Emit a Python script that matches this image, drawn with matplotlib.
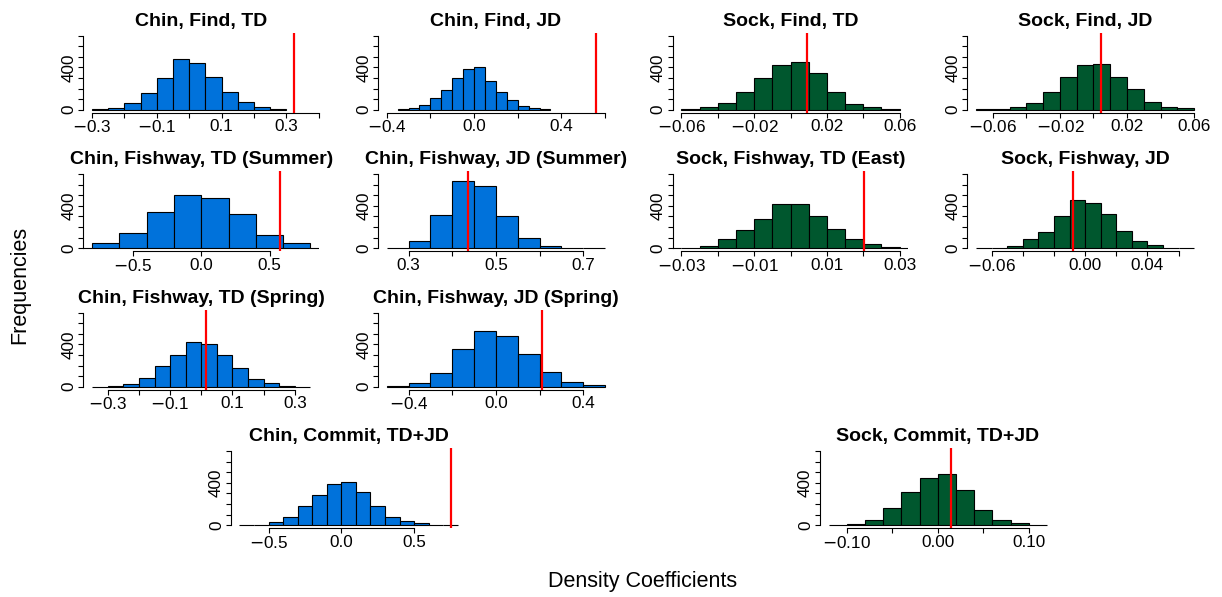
import numpy as np
import matplotlib
matplotlib.use("Agg")
import matplotlib.pyplot as plt

plt.rcParams["font.family"] = ["Liberation Sans", "DejaVu Sans"]
plt.rcParams["mathtext.fontset"] = "dejavusans"

# --- data ------------------------------------------------------------------
titles = [
    "Chin, Find, TD", "Chin, Find, JD", "Sock, Find, TD", "Sock, Find, JD",
    "Chin, Fishway, TD (Summer)", "Chin, Fishway, JD (Summer)",
    "Sock, Fishway, TD (East)", "Sock, Fishway, JD",
    "Chin, Fishway, TD (Spring)", "Chin, Fishway, JD (Spring)",
    "Chin, Commit, TD+JD", "Sock, Commit, TD+JD",
]
species = ["Chin", "Chin", "Sock", "Sock", "Chin", "Chin", "Sock", "Sock",
           "Chin", "Chin", "Chin", "Sock"]

bin_start = [-0.3, -0.35, -0.06, -0.07, -1.0, 0.25, -0.035, -0.07,
             -0.35, -0.5, -0.7, -0.12]
bin_width = [0.05, 0.05, 0.01, 0.01, 0.2, 0.05, 0.005, 0.01,
             0.05, 0.1, 0.1, 0.02]

counts = [
    [8, 19, 60, 155, 300, 476, 438, 312, 170, 76, 22, 6],
    [6, 13, 44, 107, 186, 303, 382, 400, 271, 164, 88, 32, 13, 6],
    [6, 25, 60, 167, 303, 420, 448, 344, 167, 54, 22, 6],
    [6, 9, 22, 66, 170, 306, 423, 435, 312, 196, 73, 22, 13],
    [5, 44, 141, 342, 499, 474, 323, 122, 47, 5],
    [0, 69, 314, 640, 584, 301, 94, 16, 3, 0],
    [1, 3, 22, 88, 173, 276, 421, 417, 301, 179, 82, 38, 9, 1],
    [0, 3, 22, 82, 148, 301, 455, 424, 320, 163, 66, 28, 6, 3],
    [0, 6, 22, 80, 197, 299, 427, 408, 299, 172, 73, 35, 6, 0],
    [3, 32, 131, 357, 522, 475, 312, 137, 41, 13],
    [3, 6, 25, 79, 183, 284, 391, 404, 312, 177, 73, 35, 16, 6, 3],
    [6, 13, 47, 164, 309, 442, 480, 328, 142, 50, 16, 6],
]

observed = [0.325, 0.559, 0.0089, 0.0042, 0.579, 0.435, 0.0202, -0.0075,
            0.014, 0.212, 0.755, 0.0147]

x_limits = [(-0.327, 0.402), (-0.44, 0.64), (-0.0648, 0.0648), (-0.0752, 0.0652),
            (-0.864, 0.864), (0.23, 0.77), (-0.0324, 0.0324), (-0.0756, 0.0756),
            (-0.378, 0.378), (-0.54, 0.54), (-0.76, 0.86), (-0.1296, 0.1296)]

x_ticks = [
    [-0.3, -0.2, -0.1, 0.0, 0.1, 0.2, 0.3, 0.4],
    [-0.4, -0.2, 0.0, 0.2, 0.4, 0.6],
    [-0.06, -0.04, -0.02, 0.0, 0.02, 0.04, 0.06],
    [-0.06, -0.04, -0.02, 0.0, 0.02, 0.04, 0.06],
    [-0.5, 0.0, 0.5],
    [0.3, 0.4, 0.5, 0.6, 0.7],
    [-0.03, -0.02, -0.01, 0.0, 0.01, 0.02, 0.03],
    [-0.06, -0.04, -0.02, 0.0, 0.02, 0.04, 0.06],
    [-0.3, -0.2, -0.1, 0.0, 0.1, 0.2, 0.3],
    [-0.4, -0.2, 0.0, 0.2, 0.4],
    [-0.5, 0.0, 0.5],
    [-0.10, -0.05, 0.0, 0.05, 0.10],
]
M = "$-$"
x_labels = [
    [M + "0.3", "", M + "0.1", "", "0.1", "", "0.3", ""],
    [M + "0.4", "", "0.0", "", "0.4", ""],
    [M + "0.06", "", M + "0.02", "", "0.02", "", "0.06"],
    [M + "0.06", "", M + "0.02", "", "0.02", "", "0.06"],
    [M + "0.5", "0.0", "0.5"],
    ["0.3", "", "0.5", "", "0.7"],
    [M + "0.03", "", M + "0.01", "", "0.01", "", "0.03"],
    [M + "0.06", "", "", "0.00", "", "0.04", ""],
    [M + "0.3", "", M + "0.1", "", "0.1", "", "0.3"],
    [M + "0.4", "", "0.0", "", "0.4"],
    [M + "0.5", "0.0", "0.5"],
    [M + "0.10", "", "0.00", "", "0.10"],
]

y_ticks = [0, 100, 200, 300, 400, 500, 600, 700]
y_labels = ["0", "", "", "", "400", "", "", ""]

# --- layout (grid row, grid column) -----------------------------------------
grid = [(0, 0), (0, 1), (0, 2), (0, 3), (1, 0), (1, 1), (1, 2), (1, 3),
        (2, 0), (2, 1), (3, 0.5), (3, 2.5)]
colors = {"Chin": "#0072DB", "Sock": "#00572E"}

W, H = 1222, 597
fig = plt.figure(figsize=(W / 100, H / 100), dpi=100)

for i, title in enumerate(titles):
    row, col = grid[i]
    left = 83.4 + 294.6 * col
    bottom = 112.6 + 138.5 * row
    ax = fig.add_axes([left / W, 1 - bottom / H, 235.8 / W, 79.9 / H])

    n = len(counts[i])
    edges = bin_start[i] + bin_width[i] * np.arange(n + 1)
    ax.bar(edges[:-1], counts[i], width=bin_width[i], align="edge",
           color=colors[species[i]], edgecolor="black", linewidth=0.8)
    ax.axvline(observed[i], color="red", linewidth=1.6, zorder=5)

    ax.set_xlim(*x_limits[i])
    ax.set_ylim(-28, 728)
    ax.set_xticks(x_ticks[i])
    ax.set_xticklabels(x_labels[i])
    ax.set_yticks(y_ticks)
    ax.set_yticklabels(y_labels, rotation=90, va="center")

    for side in ("top", "right"):
        ax.spines[side].set_visible(False)
    ax.spines["left"].set_bounds(0, 700)
    ax.spines["bottom"].set_bounds(x_ticks[i][0], x_ticks[i][-1])
    for side in ("left", "bottom"):
        ax.spines[side].set_linewidth(0.8)
    ax.tick_params(direction="out", length=3.4, width=0.8, labelsize=12.3, pad=1.5)
    ax.set_title(title, fontsize=14, fontweight="bold", pad=5)

fig.text(20 / W, 1 - 285 / H, "Frequencies", rotation=90, fontsize=15.5,
         ha="center", va="center")
fig.text(643 / W, 1 - 582 / H, "Density Coefficients", fontsize=15.5,
         ha="center", va="center")

fig.savefig("out.png", dpi=100)
